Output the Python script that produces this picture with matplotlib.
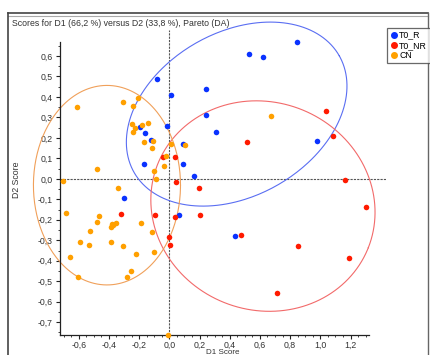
import numpy as np
import matplotlib.pyplot as plt
from matplotlib.lines import Line2D
from matplotlib.ticker import FixedLocator, FuncFormatter

plt.rcParams['font.family'] = ['Liberation Sans', 'DejaVu Sans']

# scores (D1, D2)
r_x = [-0.081, 0.010, 0.243, 0.245, 0.312, -0.196, -0.015, -0.161, -0.120, 0.092,
       -0.171, 0.092, 0.166, -0.300, 0.061, 0.844, 0.530, 0.618, 0.978, 0.435]
r_y = [0.487, 0.408, 0.440, 0.312, 0.230, 0.255, 0.256, 0.223, 0.188, 0.169,
       0.072, 0.073, 0.013, -0.092, -0.179, 0.666, 0.611, 0.593, 0.187, -0.280]

nr_x = [-0.040, 0.037, 0.045, 0.194, -0.318, -0.095, 0.038, 0.205, -0.002, 0.007,
        1.036, 0.512, 1.086, 1.161, 1.305, 0.477, 0.852, 1.188, 0.713]
nr_y = [0.106, 0.106, -0.014, -0.047, -0.172, -0.176, -0.185, -0.179, -0.282, -0.322,
        0.331, 0.181, 0.208, -0.008, -0.138, -0.273, -0.329, -0.387, -0.557]

cn_x = [-0.609, -0.309, -0.242, -0.209, -0.247, -0.183, -0.143, -0.224, -0.238, -0.107,
        -0.169, -0.113, -0.479, -0.025, 0.009, 0.104, -0.034, -0.100, -0.090, 0.673,
        -0.702, -0.339, -0.686, -0.464, -0.477, -0.384, -0.371, -0.355, -0.378, -0.190,
        -0.523, -0.113, -0.589, -0.534, -0.388, -0.305, -0.658, -0.218, -0.099, -0.607,
        -0.257, -0.282, -0.009]
cn_y = [0.353, 0.376, 0.356, 0.394, 0.266, 0.264, 0.272, 0.248, 0.231, 0.186,
        0.181, 0.150, 0.046, 0.113, 0.170, 0.164, 0.064, 0.038, 0.000, 0.305,
        -0.011, -0.043, -0.166, -0.182, -0.211, -0.236, -0.225, -0.216, -0.221, -0.218,
        -0.257, -0.260, -0.306, -0.325, -0.309, -0.329, -0.384, -0.368, -0.358, -0.478,
        -0.452, -0.481, -0.760]

# group ellipses: center and two conjugate semi-axes (data units)
ell_center = {'T0_R': (0.446, 0.316), 'T0_NR': (0.620, -0.133), 'CN': (-0.413, -0.031)}
ell_u = {'T0_R': (0.680, 0.284), 'T0_NR': (0.698, -0.203), 'CN': (0.487, 0.0)}
ell_v = {'T0_R': (-0.267, 0.348), 'T0_NR': (0.253, 0.472), 'CN': (0.0, 0.487)}

colors = {'T0_R': '#0a32ff', 'T0_NR': '#ff1a00', 'CN': '#ffa000'}
ell_colors = {'T0_R': '#5a6ef2', 'T0_NR': '#f26a6a', 'CN': '#f0a05a'}

fig = plt.figure(figsize=(4.3, 3.55), dpi=100)
ax = fig.add_axes([60 / 430, 1 - 334.5 / 355, 326 / 430, 309.3 / 355])
ax.set_xlim(-0.724, 1.435)
ax.set_ylim(-0.760, 0.750)

for s in ['top', 'right']:
    ax.spines[s].set_visible(False)
ax.spines['left'].set_bounds(-0.760, 0.666)
ax.spines['bottom'].set_bounds(-0.724, 1.325)
for s in ['left', 'bottom']:
    ax.spines[s].set_linewidth(0.9)
    ax.spines[s].set_color('#222222')

ax.axhline(0, color='#555555', lw=0.8, ls=(0, (2, 1)), zorder=1)
ax.axvline(0, ymax=0.985, color='#555555', lw=0.8, ls=(0, (2, 1)), zorder=1)

t = np.linspace(0, 2 * np.pi, 300)
for g in ['T0_R', 'T0_NR', 'CN']:
    cx, cy = ell_center[g]
    ux, uy = ell_u[g]
    vx, vy = ell_v[g]
    ax.plot(cx + ux * np.cos(t) + vx * np.sin(t), cy + uy * np.cos(t) + vy * np.sin(t),
            color=ell_colors[g], lw=0.8, clip_on=False, zorder=2)

ax.scatter(r_x, r_y, s=16, color=colors['T0_R'], zorder=3, clip_on=False, linewidths=0)
ax.scatter(nr_x, nr_y, s=16, color=colors['T0_NR'], zorder=3, clip_on=False, linewidths=0)
ax.scatter(cn_x, cn_y, s=16, color=colors['CN'], zorder=3, clip_on=False, linewidths=0)

fmt = FuncFormatter(lambda v, p: f'{v:.1f}'.replace('.', ',').replace('-0,0', '0,0'))
ax.set_xticks(np.round(np.arange(-0.6, 1.21, 0.2), 2))
ax.set_yticks(np.round(np.arange(-0.7, 0.61, 0.1), 2))
ax.xaxis.set_minor_locator(FixedLocator(np.round(np.arange(-0.70, 1.31, 0.05), 2)))
ax.yaxis.set_minor_locator(FixedLocator(np.round(np.arange(-0.75, 0.66, 0.05), 2)))
ax.xaxis.set_major_formatter(fmt)
ax.yaxis.set_major_formatter(fmt)
ax.tick_params(which='major', length=3, width=0.8, labelsize=6.3, pad=2,
               color='#222222', labelcolor='#333333')
ax.tick_params(axis='x', which='major', pad=1.2)
ax.tick_params(which='minor', length=1.5, width=0.6, color='#222222')

ax.set_xlabel('D1 Score', fontsize=5.8, labelpad=-0.5, color='#333333')
ax.set_ylabel('D2 Score', fontsize=6.3, labelpad=12, color='#333333')

fig.text(12 / 430, 1 - 23 / 355, 'Scores for D1 (66,2 %) versus D2 (33,8 %), Pareto (DA)',
         fontsize=6.3, va='center', ha='left', color='#333333')

# window frame
fig.add_artist(Line2D([7.5 / 430, 427.7 / 430], [1 - 13 / 355, 1 - 13 / 355],
                      transform=fig.transFigure, color='#444444', lw=1.2))
fig.add_artist(Line2D([7.5 / 430, 427.7 / 430], [1 - 15.5 / 355, 1 - 15.5 / 355],
                      transform=fig.transFigure, color='#aaaaaa', lw=0.8))
fig.add_artist(Line2D([7.5 / 430, 7.5 / 430], [0, 1 - 13 / 355],
                      transform=fig.transFigure, color='#444444', lw=1.2))
fig.add_artist(Line2D([427.7 / 430, 427.7 / 430], [0, 1 - 13 / 355],
                      transform=fig.transFigure, color='#666666', lw=1.0))

handles = [Line2D([], [], marker='o', ls='', color=colors[g], markersize=4) for g in colors]
leg = fig.legend(handles, list(colors), loc='upper left',
                 bbox_to_anchor=(387 / 430, 1 - 28 / 355), fontsize=6.3,
                 frameon=True, fancybox=False, borderpad=0.3, handletextpad=0.1,
                 labelspacing=0.15, handlelength=1.0, borderaxespad=0)
leg.get_frame().set_edgecolor('#444444')
leg.get_frame().set_linewidth(0.9)

fig.savefig('out.png', dpi=100)
